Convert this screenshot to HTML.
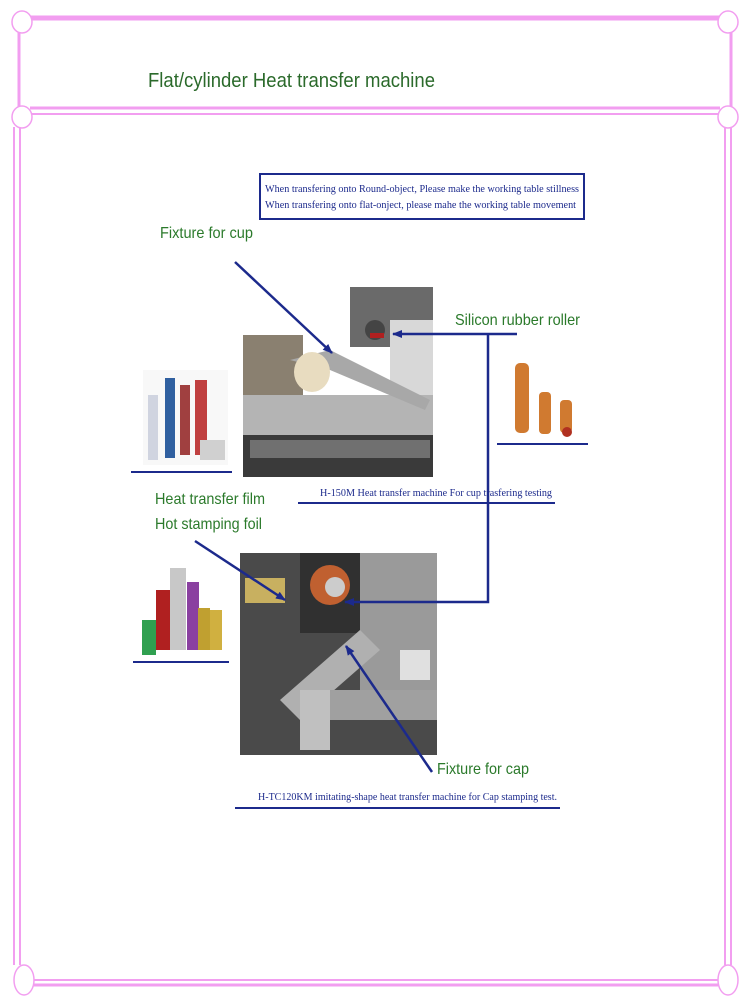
<!DOCTYPE html>
<html><head><style>body{margin:0;background:#fff}svg{display:block}</style></head>
<body>
<svg width="750" height="1000" xmlns="http://www.w3.org/2000/svg">
<defs>
<marker id="ah" markerWidth="10" markerHeight="8" refX="9" refY="4" orient="auto" markerUnits="userSpaceOnUse"><path d="M0,0 L10,4 L0,8 z" fill="#1c2a8c"/></marker>
</defs>
<g stroke="#f29ef0" fill="none">
<line x1="30" y1="18" x2="720" y2="18" stroke-width="5"/>
<line x1="19" y1="30" x2="19" y2="108" stroke-width="3"/>
<line x1="731" y1="30" x2="731" y2="108" stroke-width="3"/>
<line x1="30" y1="108" x2="720" y2="108" stroke-width="3"/>
<line x1="30" y1="114" x2="720" y2="114" stroke-width="2"/>
<line x1="14" y1="127" x2="14" y2="965" stroke-width="2"/>
<line x1="20" y1="127" x2="20" y2="965" stroke-width="2"/>
<line x1="725" y1="127" x2="725" y2="965" stroke-width="2"/>
<line x1="731" y1="127" x2="731" y2="965" stroke-width="2"/>
<line x1="28" y1="980" x2="718" y2="980" stroke-width="2"/>
<line x1="28" y1="985" x2="718" y2="985" stroke-width="3"/>
</g>
<g stroke="#f29ef0" stroke-width="1.5" fill="#fff">
<ellipse cx="22" cy="22" rx="10" ry="11"/><ellipse cx="728" cy="22" rx="10" ry="11"/>
<ellipse cx="22" cy="117" rx="10" ry="11"/><ellipse cx="728" cy="117" rx="10" ry="11"/>
<ellipse cx="24" cy="980" rx="10" ry="15"/><ellipse cx="728" cy="980" rx="10" ry="15"/>
</g>
<text x="148" y="87" font-family="Liberation Sans, sans-serif" font-size="20" fill="#2b6a2b" textLength="287" lengthAdjust="spacingAndGlyphs">Flat/cylinder Heat transfer machine</text>

<rect x="260" y="174" width="324" height="45" fill="#fff" stroke="#1c2a8c" stroke-width="2"/>
<g font-family="Liberation Serif, serif" font-size="10.5" fill="#1c2a8c">
<text x="265" y="192" textLength="314" lengthAdjust="spacingAndGlyphs">When transfering onto Round-object, Please make the working table stillness</text>
<text x="265" y="208" textLength="311" lengthAdjust="spacingAndGlyphs">When transfering onto flat-onject, please mahe the working table movement</text>
<text x="320" y="496" textLength="232" lengthAdjust="spacingAndGlyphs">H-150M Heat transfer machine For cup trasfering testing</text>
<text x="258" y="800" textLength="299" lengthAdjust="spacingAndGlyphs">H-TC120KM imitating-shape heat transfer machine for Cap stamping test.</text>
</g>
<g font-family="Liberation Sans, sans-serif" font-size="16" fill="#2b7a2b">
<text x="160" y="238" textLength="93" lengthAdjust="spacingAndGlyphs">Fixture for cup</text>
<text x="455" y="325" textLength="125" lengthAdjust="spacingAndGlyphs">Silicon rubber roller</text>
<text x="155" y="504" textLength="110" lengthAdjust="spacingAndGlyphs">Heat transfer film</text>
<text x="155" y="529" textLength="107" lengthAdjust="spacingAndGlyphs">Hot stamping foil</text>
<text x="437" y="774" textLength="92" lengthAdjust="spacingAndGlyphs">Fixture for cap</text>
</g>

<!-- photo 1 -->
<rect x="243" y="287" width="190" height="190" fill="#fff"/>
<rect x="350" y="287" width="83" height="60" fill="#6a6a6a"/>
<rect x="390" y="320" width="43" height="120" fill="#d8d8d8"/>
<rect x="243" y="335" width="60" height="60" fill="#8a8070"/>
<rect x="243" y="395" width="190" height="40" fill="#b4b4b4"/>
<rect x="243" y="435" width="190" height="42" fill="#3a3a3a"/>
<rect x="250" y="440" width="180" height="18" fill="#707070"/>
<polygon points="290,360 330,350 430,400 425,410 330,370" fill="#a8a8a8"/>
<ellipse cx="312" cy="372" rx="18" ry="20" fill="#e8dcc0"/>
<circle cx="375" cy="330" r="10" fill="#444"/>
<rect x="370" y="333" width="14" height="5" fill="#b02020"/>
<!-- photo 2 -->
<rect x="240" y="553" width="197" height="202" fill="#4a4a4a"/>
<rect x="360" y="553" width="77" height="140" fill="#9a9a9a"/>
<rect x="300" y="553" width="60" height="80" fill="#303030"/>
<circle cx="330" cy="585" r="20" fill="#c06030"/>
<circle cx="335" cy="587" r="10" fill="#ccc"/>
<rect x="245" y="578" width="40" height="25" fill="#c8b060"/>
<polygon points="280,700 360,630 380,650 300,720" fill="#b0b0b0"/>
<rect x="300" y="690" width="30" height="60" fill="#c0c0c0"/>
<rect x="330" y="690" width="107" height="30" fill="#a0a0a0"/>
<rect x="400" y="650" width="30" height="30" fill="#e0e0e0"/>
<!-- left products -->
<rect x="143" y="370" width="85" height="95" fill="#f8f8f8"/>
<rect x="148" y="395" width="10" height="65" fill="#d0d4e0"/>
<rect x="165" y="378" width="10" height="80" fill="#3060a0"/>
<rect x="180" y="385" width="10" height="70" fill="#a04040"/>
<rect x="195" y="380" width="12" height="75" fill="#c04040"/>
<rect x="200" y="440" width="25" height="20" fill="#d0d0d0"/>
<line x1="131" y1="472" x2="232" y2="472" stroke="#1c2a8c" stroke-width="2"/>
<!-- rollers -->
<rect x="515" y="363" width="14" height="70" rx="5" fill="#d07a30"/>
<rect x="539" y="392" width="12" height="42" rx="4" fill="#d07a30"/>
<rect x="560" y="400" width="12" height="33" rx="4" fill="#d07a30"/>
<circle cx="567" cy="432" r="5" fill="#b03020"/>
<line x1="497" y1="444" x2="588" y2="444" stroke="#1c2a8c" stroke-width="2"/>
<!-- foil -->
<rect x="142" y="620" width="14" height="35" fill="#30a050"/>
<rect x="156" y="590" width="16" height="60" fill="#b02020"/>
<rect x="170" y="568" width="16" height="82" fill="#c8c8c8"/>
<rect x="187" y="582" width="12" height="68" fill="#8a40a0"/>
<rect x="198" y="608" width="12" height="42" fill="#c0a030"/>
<rect x="210" y="610" width="12" height="40" fill="#d0b040"/>
<line x1="133" y1="662" x2="229" y2="662" stroke="#1c2a8c" stroke-width="2"/>
<!-- underlines -->
<line x1="298" y1="503" x2="555" y2="503" stroke="#1c2a8c" stroke-width="2"/>
<line x1="235" y1="808" x2="560" y2="808" stroke="#1c2a8c" stroke-width="2"/>
<!-- arrows -->
<g stroke="#1c2a8c" stroke-width="2.5" fill="none">
<line x1="235" y1="262" x2="332" y2="353" marker-end="url(#ah)"/>
<line x1="517" y1="334" x2="393" y2="334" marker-end="url(#ah)"/>
<polyline points="488,334 488,602 345,602" marker-end="url(#ah)"/>
<line x1="195" y1="541" x2="285" y2="600" marker-end="url(#ah)"/>
<line x1="432" y1="772" x2="346" y2="646" marker-end="url(#ah)"/>
</g>
</svg>
</body></html>
